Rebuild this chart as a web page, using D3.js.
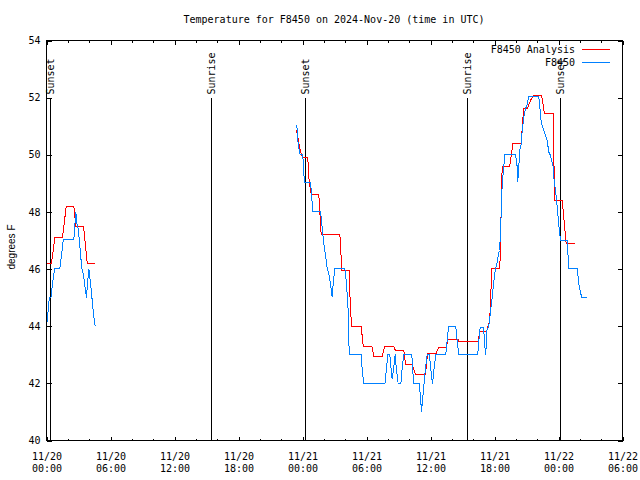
<!DOCTYPE html>
<html>
<head>
<meta charset="utf-8">
<script src="https://cdn.jsdelivr.net/npm/d3@7"></script>
<style>
  body { margin: 0; background: #fff; }
  svg { display: block; }
  text { font-family: "DejaVu Sans Mono", "Liberation Mono", monospace; font-size: 10px; fill: #000; }
</style>
</head>
<body>
<script>
// ---------- DATA (hours since 2024-11-20 00:00 UTC) ----------
const titleText = "Temperature for F8450 on 2024-Nov-20 (time in UTC)";
const yLabelText = "degrees F";
const seriesNames = ["F8450 Analysis", "F8450"];
const seriesColors = ["#ff0000", "#0080ff"];

const analysisHours = [
  0.07,0.47,0.61,0.78,1.50,1.85,2.56,2.75,3.47,3.82,4.59,
  null,
  23.44,23.56,23.72,23.88,24.07,24.50,24.56,24.66,24.82,25.53,25.59,25.75,27.50,27.56,27.68,28.36,28.50,28.62,
  29.50,29.69,30.50,30.68,31.47,31.69,32.56,32.72,33.50,33.66,34.28,34.59,35.53,35.72,36.50,36.75,37.50,37.59,
  38.60,38.69,40.50,40.59,41.28,41.37,41.50,41.60,41.69,41.75,42.50,42.56,42.72,43.43,43.72,44.50,44.69,44.75,
  45.07,45.37,45.68,46.41,46.69,47.50,47.63,48.35,48.72,49.50
];
const analysisTemps = [
  46.2,46.2,46.6,47.1,47.1,48.2,48.2,47.5,47.5,46.2,46.2,
  null,
  50.85,50.62,50.27,50.03,49.9,49.9,49.33,48.96,48.61,48.61,48.22,47.21,47.21,46.88,45.95,45.95,44.55,44.0,
  44.0,43.3,43.3,42.95,42.95,43.28,43.28,43.15,43.15,42.66,42.66,42.31,42.31,43.03,43.03,43.24,43.24,43.52,
  43.52,43.45,43.45,43.83,43.83,43.99,44.14,44.55,45.48,46.01,46.01,47.0,49.6,49.6,50.38,50.38,51.43,51.61,
  51.61,51.9,52.09,52.09,51.43,51.43,48.4,48.4,46.88,46.88
];

const obsHours = [
  0.09,0.19,0.31,0.42,0.56,0.78,1.25,1.41,1.57,2.56,2.75,2.84,2.93,3.09,3.19,3.33,3.47,3.56,3.75,3.84,3.98,4.13,4.31,4.41,4.57,
  null,
  23.47,23.50,23.56,23.65,23.72,23.97,24.07,24.12,24.22,24.75,24.82,24.91,24.97,25.69,25.75,25.87,26.00,26.16,26.32,26.47,
  26.63,26.78,26.88,27.03,27.97,28.13,28.28,28.38,29.50,29.60,29.75,31.72,31.78,32.00,32.18,32.32,32.41,32.56,32.69,32.78,
  32.97,33.22,33.35,33.50,34.25,34.34,34.43,34.94,35.06,35.16,35.25,35.34,35.47,35.60,35.69,35.91,36.00,36.19,36.31,36.50,
  37.43,37.56,37.69,38.37,38.50,38.65,40.43,40.53,40.66,40.97,41.06,41.13,41.18,41.28,41.44,41.53,41.75,41.91,42.07,42.22,
  42.38,42.47,42.56,42.72,42.87,42.96,43.97,44.13,44.18,44.28,44.37,44.50,44.60,44.75,44.91,45.07,45.22,46.15,46.25,46.38,
  46.47,46.94,47.09,47.25,47.50,47.56,47.72,47.88,48.03,48.19,48.81,48.97,49.75,49.91,50.16,50.69
];
const obsTemps = [
  44.14,44.8,45.0,45.0,45.5,46.03,46.03,46.5,47.03,47.03,48.0,47.6,47.5,47.0,46.5,46.0,45.8,45.5,45.0,45.5,46.0,45.5,44.8,44.4,44.0,
  null,
  51.03,50.85,50.5,50.27,50.03,50.0,49.8,49.33,49.03,49.03,48.75,48.28,48.01,48.01,47.82,47.35,46.88,46.48,46.01,45.83,
  45.48,45.02,45.48,46.01,46.01,45.48,44.55,43.01,43.01,42.45,41.98,41.98,42.16,43.01,43.01,42.45,42.14,42.57,43.01,42.57,
  41.98,41.98,42.57,43.01,43.01,42.45,41.98,41.98,41.52,41.01,41.4,41.75,42.33,42.74,43.01,43.01,42.57,41.98,42.45,43.01,
  43.01,43.5,43.99,43.99,43.5,43.01,43.01,43.5,43.97,43.97,43.5,43.15,43.0,43.85,43.97,44.2,44.9,45.5,45.95,46.18,
  46.53,46.65,47.23,48.98,49.57,50.01,50.01,49.57,49.04,49.6,50.15,50.38,50.85,51.32,51.61,51.78,52.04,52.04,51.67,51.14,
  51.03,50.5,50.09,49.98,49.57,49.2,48.75,48.17,47.53,47.0,47.0,46.01,46.01,45.48,45.02,45.02
];

const sunEventHours = [0.40, 15.47, 24.30, 39.47, 48.20];
const sunEventLabels = ["Sunset", "Sunrise", "Sunset", "Sunrise", "Sunset"];

const yTickValues = [40, 42, 44, 46, 48, 50, 52, 54];
const startMs = Date.UTC(2024, 10, 20, 0, 0);
const endMs = Date.UTC(2024, 10, 22, 6, 0);

// ---------- CHART ----------
const W = 640, H = 480;
const L = 46, R = 622, T = 40, B = 440;
const toDate = h => new Date(startMs + h * 3600e3);

const x = d3.scaleUtc().domain([new Date(startMs), new Date(endMs)]).range([L, R]);
const y = d3.scaleLinear().domain([40, 54]).range([B, T]);

const svg = d3.select("body").append("svg").attr("width", W).attr("height", H);
const g = svg.append("g").attr("transform", "translate(0.5,0.5)");

const majorTicks = d3.utcHour.every(6).range(new Date(startMs), new Date(endMs + 1));
const minorTicks = d3.utcHour.every(2).range(new Date(startMs), new Date(endMs + 1))
  .filter(d => d.getUTCHours() % 6 !== 0);

const fmtDay = d3.utcFormat("%m/%d");
const fmtTime = d3.utcFormat("%H:%M");

// bottom axis major with labels
const gx = g.append("g").attr("transform", `translate(0,${B})`)
  .call(d3.axisBottom(x).tickValues(majorTicks).tickSizeInner(-4).tickSizeOuter(0).tickPadding(12).tickFormat(fmtDay));
gx.selectAll(".tick text").each(function(d) {
  const t = d3.select(this);
  t.text(null);
  t.append("tspan").attr("x", 0).text(fmtDay(d));
  t.append("tspan").attr("x", 0).attr("dy", "1.2em").text(fmtTime(d));
});
g.append("g").attr("transform", `translate(0,${B})`)
  .call(d3.axisBottom(x).tickValues(minorTicks).tickSizeInner(-2).tickSizeOuter(0).tickFormat(""));
// top axis
g.append("g").attr("transform", `translate(0,${T})`)
  .call(d3.axisTop(x).tickValues(majorTicks).tickSizeInner(-4).tickSizeOuter(0).tickFormat(""));
g.append("g").attr("transform", `translate(0,${T})`)
  .call(d3.axisTop(x).tickValues(minorTicks).tickSizeInner(-2).tickSizeOuter(0).tickFormat(""));
// left / right axes
g.append("g").attr("transform", `translate(${L},0)`)
  .call(d3.axisLeft(y).tickValues(yTickValues).tickSizeInner(-5).tickSizeOuter(0).tickPadding(6).tickFormat(d3.format("d")));
g.append("g").attr("transform", `translate(${R},0)`)
  .call(d3.axisRight(y).tickValues(yTickValues).tickSizeInner(-5).tickSizeOuter(0).tickFormat(""));

g.selectAll(".domain").remove();
g.selectAll(".tick line").attr("stroke", "#000").attr("shape-rendering", "crispEdges");
g.selectAll(".tick text").attr("font-family", null).attr("font-size", null).attr("fill", "#000");

// frame
g.append("rect").attr("x", L).attr("y", T).attr("width", R - L).attr("height", B - T)
  .attr("fill", "none").attr("stroke", "#000").attr("shape-rendering", "crispEdges");

// sun events
const sunTop = 97;
sunEventHours.forEach((h, i) => {
  const sx = Math.round(x(toDate(h)));
  g.append("line").attr("x1", sx).attr("x2", sx).attr("y1", B).attr("y2", sunTop)
    .attr("stroke", "#000").attr("shape-rendering", "crispEdges");
  g.append("text").attr("transform", `translate(${sx},${sunTop - 3}) rotate(-90)`)
    .attr("dy", "0.35em").attr("text-anchor", "start").text(sunEventLabels[i]);
});

// series
const mk = (hs, vs) => hs.map((h, i) => ({ h, v: vs[i] }));
const line = d3.line().defined(d => d.h != null && d.v != null)
  .x(d => x(toDate(d.h))).y(d => y(d.v));
const series = [mk(analysisHours, analysisTemps), mk(obsHours, obsTemps)];
series.forEach((s, i) => {
  g.append("path").datum(s).attr("d", line).attr("fill", "none")
    .attr("stroke", seriesColors[i]).attr("stroke-width", 1)
    .attr("shape-rendering", "crispEdges");
});

// title & y label
svg.append("text").attr("x", (L + R) / 2).attr("y", 19).attr("dy", "0.35em")
  .attr("text-anchor", "middle").text(titleText);
svg.append("text").attr("transform", "translate(11,247) rotate(-90)")
  .attr("dy", "0.35em").attr("text-anchor", "middle")
  .style("font-family", "'Liberation Sans', Arial, sans-serif").style("font-size", "10px")
  .text(yLabelText);

// legend
seriesNames.forEach((name, i) => {
  const ly = 49 + i * 13;
  svg.append("text").attr("x", 575).attr("y", ly).attr("dy", "0.35em")
    .attr("text-anchor", "end").text(name);
  svg.append("line").attr("x1", 582).attr("x2", 610).attr("y1", ly + 0.5).attr("y2", ly + 0.5)
    .attr("stroke", seriesColors[i]).attr("stroke-width", 1)
    .attr("shape-rendering", "crispEdges");
});
</script>
</body>
</html>
